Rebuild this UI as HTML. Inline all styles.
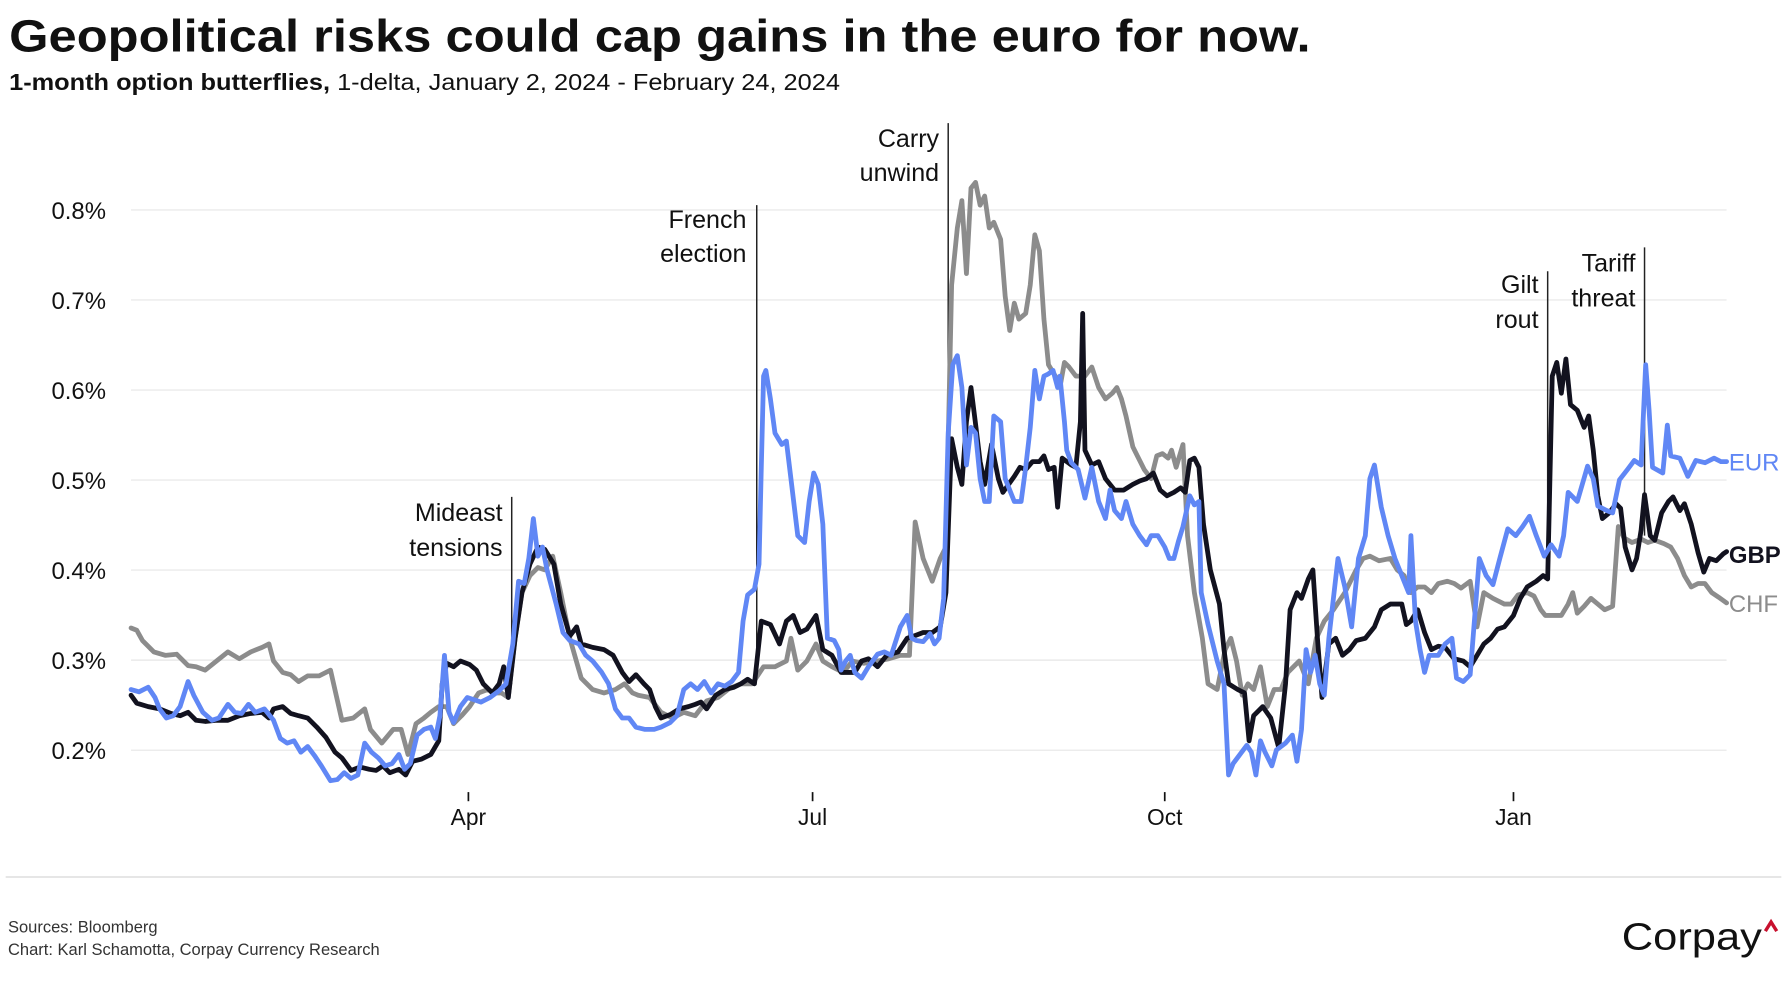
<!DOCTYPE html>
<html><head><meta charset="utf-8"><style>
html,body{margin:0;padding:0;background:#fff;}
svg{display:block;}
text{font-family:"Liberation Sans",sans-serif;}
</style></head><body>
<svg width="1787" height="1000" viewBox="0 0 1568 877.4" xmlns="http://www.w3.org/2000/svg">
<rect width="1568" height="877.4" fill="#fff"/>
<text x="8" y="45" font-size="40" font-weight="bold" fill="#111" textLength="1142" lengthAdjust="spacingAndGlyphs">Geopolitical risks could cap gains in the euro for now.</text>
<text x="8" y="79" font-size="20" fill="#111" textLength="729" lengthAdjust="spacingAndGlyphs"><tspan font-weight="bold">1-month option butterflies,</tspan> 1-delta, January 2, 2024 - February 24, 2024</text>
<g stroke="#e6e6e6" stroke-width="1">
<line x1="115" x2="1515" y1="184.2" y2="184.2"/><line x1="115" x2="1515" y1="263.2" y2="263.2"/><line x1="115" x2="1515" y1="342.2" y2="342.2"/><line x1="115" x2="1515" y1="421.2" y2="421.2"/><line x1="115" x2="1515" y1="500.2" y2="500.2"/><line x1="115" x2="1515" y1="579.2" y2="579.2"/><line x1="115" x2="1515" y1="658.2" y2="658.2"/>
</g>
<g font-size="21" fill="#111" text-anchor="end">
<text x="93" y="192">0.8%</text><text x="93" y="271">0.7%</text><text x="93" y="350">0.6%</text><text x="93" y="429">0.5%</text><text x="93" y="508">0.4%</text><text x="93" y="587">0.3%</text><text x="93" y="666">0.2%</text>
</g>
<g stroke="#111" stroke-width="1.5"><line x1="411" x2="411" y1="695" y2="703"/><line x1="713" x2="713" y1="695" y2="703"/><line x1="1022" x2="1022" y1="695" y2="703"/><line x1="1328" x2="1328" y1="695" y2="703"/></g>
<g font-size="20" fill="#111" text-anchor="middle">
<text x="411" y="724">Apr</text><text x="713" y="724">Jul</text><text x="1022" y="724">Oct</text><text x="1328" y="724">Jan</text>
</g>
<g stroke="#222" stroke-width="1.3">
<line x1="449" x2="449" y1="436" y2="600"/><line x1="664" x2="664" y1="180" y2="582"/><line x1="832" x2="832" y1="108" y2="380"/><line x1="1358" x2="1358" y1="238" y2="505"/><line x1="1443" x2="1443" y1="217" y2="470"/>
</g>
<g font-size="22" fill="#111" text-anchor="end">
<text x="441" y="457">Mideast</text><text x="441" y="488">tensions</text>
<text x="655" y="200">French</text><text x="655" y="230">election</text>
<text x="824" y="129">Carry</text><text x="824" y="159">unwind</text>
<text x="1350" y="257">Gilt</text><text x="1350" y="288">rout</text>
<text x="1435" y="238">Tariff</text><text x="1435" y="269">threat</text>
</g>
<g fill="none" stroke-width="4.2" stroke-linejoin="round" stroke-linecap="round">
<polyline stroke="#8c8c8c" points="115,551 120,553 125,562 135,572 145,575 155,574 165,584 172,585 180,588 190,580 200,572 210,578 220,572 230,568 236,565 240,580 248,590 255,592 262,598 270,593 280,593 290,588 295,610 300,632 310,630 320,622 325,640 335,652 345,640 352,640 358,662 365,635 372,630 378,625 385,620 392,620 398,635 405,628 412,620 420,608 428,605 435,608 440,608 446,612 452,560 458,520 465,505 472,498 478,500 485,488 492,520 500,560 510,595 520,605 530,608 540,605 548,600 555,608 560,610 570,612 580,625 590,630 600,625 610,628 620,615 630,612 640,604 650,600 660,600 670,585 680,585 690,580 694,560 700,588 708,580 716,565 722,580 730,585 740,590 748,580 758,582 770,580 780,578 790,575 798,575 803,458 810,490 818,510 825,490 830,480 835,250 840,200 844,176 848,240 852,165 856,160 860,180 864,172 868,200 872,195 878,210 882,260 886,290 890,266 894,280 900,275 904,250 908,206 912,220 916,280 920,320 926,330 930,340 934,318 938,322 944,330 952,330 958,322 964,340 970,350 976,345 980,340 984,350 988,365 994,392 998,400 1004,412 1010,420 1015,400 1020,398 1025,402 1028,395 1032,410 1038,390 1042,470 1048,520 1055,560 1060,600 1068,605 1075,570 1080,560 1085,580 1090,610 1095,600 1100,605 1106,585 1112,620 1118,605 1124,605 1130,590 1140,580 1148,600 1155,560 1162,545 1170,535 1180,520 1190,500 1196,490 1202,488 1210,492 1220,490 1226,500 1232,505 1238,520 1244,515 1250,515 1256,520 1262,512 1270,510 1276,512 1282,516 1290,510 1296,550 1302,520 1310,525 1320,530 1326,530 1332,522 1340,520 1346,523 1352,535 1356,540 1362,540 1370,540 1376,530 1380,520 1384,538 1390,532 1396,525 1402,530 1408,535 1415,532 1420,462 1425,472 1432,476 1440,473 1446,476 1452,474 1460,477 1466,480 1472,490 1478,505 1484,515 1490,512 1496,512 1502,520 1508,524 1515,529"/>
<polyline stroke="#12121f" points="115,610 120,617 130,620 140,622 150,626 158,628 165,625 172,632 180,633 190,632 200,632 210,628 220,626 230,625 236,630 240,622 248,620 255,626 262,628 270,630 278,638 286,647 294,660 300,665 308,676 316,673 324,675 330,676 336,672 342,678 350,675 356,680 362,668 370,666 378,662 385,650 388,600 392,582 398,585 404,580 412,583 418,588 424,600 432,608 438,600 442,585 446,612 452,560 458,520 465,495 472,480 478,482 486,495 492,530 500,558 506,550 510,565 520,568 530,570 538,575 546,590 552,598 558,592 565,600 570,605 575,620 580,630 588,627 596,622 604,620 610,618 615,616 620,622 628,610 636,605 644,603 650,600 656,596 662,600 668,545 676,548 684,565 690,545 696,540 702,555 708,552 716,540 722,570 730,575 738,590 744,590 750,590 756,580 762,578 770,585 778,575 788,572 796,560 802,558 810,555 818,555 825,550 830,520 835,385 840,410 844,425 848,370 852,340 856,372 860,405 864,425 870,390 876,420 880,432 885,425 890,418 895,410 900,412 906,405 912,405 916,400 920,412 925,410 928,445 932,402 936,405 940,408 944,410 948,370 950,275 952,395 958,408 964,405 970,420 978,430 986,430 994,425 1000,422 1006,420 1012,415 1018,430 1024,435 1030,432 1036,428 1040,432 1044,404 1048,402 1052,410 1056,460 1062,500 1070,530 1074,570 1078,600 1086,605 1092,608 1096,650 1100,628 1108,620 1115,630 1122,656 1128,600 1132,535 1138,520 1142,525 1148,508 1152,500 1156,560 1160,612 1166,565 1172,560 1178,575 1184,570 1190,562 1198,560 1206,550 1212,535 1220,530 1230,530 1234,548 1238,545 1244,535 1250,555 1256,570 1262,567 1268,568 1276,578 1284,580 1290,585 1296,575 1302,565 1308,560 1314,552 1320,550 1328,540 1334,525 1340,515 1348,510 1354,505 1358,508 1362,330 1366,318 1370,345 1374,315 1378,355 1384,360 1390,375 1394,365 1398,395 1402,435 1406,455 1412,450 1418,442 1422,446 1426,480 1432,500 1436,490 1440,465 1443,434 1448,470 1452,474 1458,450 1464,440 1468,436 1474,448 1478,442 1484,460 1490,485 1495,502 1500,490 1506,492 1512,486 1515,484"/>
<polyline stroke="#6087f5" points="115,605 122,607 130,603 136,612 140,622 146,630 152,628 158,620 165,598 170,610 178,625 186,632 192,630 200,618 206,625 212,626 218,618 224,625 232,622 240,632 246,648 252,652 258,650 264,660 270,655 276,663 282,672 290,685 296,684 302,678 308,683 314,680 320,652 326,660 332,665 338,672 344,670 350,662 355,675 360,670 366,645 372,640 378,638 382,648 386,628 390,575 394,625 398,634 404,620 410,612 416,614 422,616 430,612 438,606 444,600 450,565 455,510 460,512 464,490 468,455 472,488 476,480 480,500 488,530 494,555 500,562 508,565 514,575 520,580 528,590 534,600 540,622 546,630 552,630 558,638 566,640 574,640 580,638 588,634 594,628 600,605 606,600 612,605 618,598 624,608 630,600 636,602 642,598 648,590 652,545 656,522 662,517 666,495 668,410 670,330 672,325 676,350 680,380 686,390 690,387 694,420 700,470 706,476 710,440 714,415 718,425 722,460 726,560 732,562 736,570 738,588 742,580 746,575 750,590 756,595 762,585 770,574 776,572 782,575 790,550 796,540 800,560 804,562 810,563 816,556 820,565 824,560 828,525 832,380 836,320 840,312 844,340 848,408 852,375 856,380 860,420 864,440 868,440 872,365 878,370 882,420 890,440 896,440 900,410 904,375 908,325 912,350 916,330 920,328 924,325 928,340 930,330 934,370 936,395 940,406 946,412 952,437 958,410 964,440 970,455 974,430 978,448 984,455 988,440 994,460 1000,470 1006,478 1010,470 1016,470 1022,480 1026,490 1030,490 1034,475 1038,462 1044,435 1048,443 1052,440 1054,520 1060,548 1068,580 1074,600 1078,680 1082,670 1088,662 1094,654 1098,660 1102,680 1106,650 1110,660 1116,672 1120,658 1128,652 1134,645 1138,668 1142,640 1146,570 1150,590 1154,575 1158,600 1162,610 1166,560 1170,525 1174,490 1180,515 1186,550 1192,490 1198,470 1202,420 1206,408 1212,445 1218,470 1224,490 1230,505 1236,520 1238,470 1242,545 1246,570 1250,590 1254,575 1262,575 1268,565 1274,560 1278,595 1284,598 1290,592 1298,490 1304,505 1310,513 1316,490 1323,464 1330,470 1336,462 1342,453 1348,470 1355,488 1361,478 1368,488 1372,470 1376,432 1384,440 1393,409 1398,420 1402,444 1410,448 1415,450 1421,421 1428,412 1434,404 1440,408 1444,320 1447,360 1450,410 1459,415 1463,373 1466,400 1474,402 1481,418 1488,404 1496,406 1504,402 1510,405 1515,405"/>
</g>
<text x="1517" y="413" font-size="21" fill="#6087f5">EUR</text>
<text x="1517" y="494" font-size="21" font-weight="bold" fill="#12121f">GBP</text>
<text x="1517" y="537" font-size="21" fill="#8c8c8c">CHF</text>
<line x1="5" x2="1563" y1="769.5" y2="769.5" stroke="#e2e2e2" stroke-width="1.5"/>
<text x="7" y="818" font-size="14.5" fill="#333">Sources: Bloomberg</text>
<text x="7" y="838" font-size="14.5" fill="#333">Chart: Karl Schamotta, Corpay Currency Research</text>
<text x="1423" y="833" font-size="33" fill="#111" textLength="123" lengthAdjust="spacingAndGlyphs">Corpay</text>
<polyline points="1549,817 1554,809 1559,817" fill="none" stroke="#c8102e" stroke-width="3"/>
</svg>
</body></html>
